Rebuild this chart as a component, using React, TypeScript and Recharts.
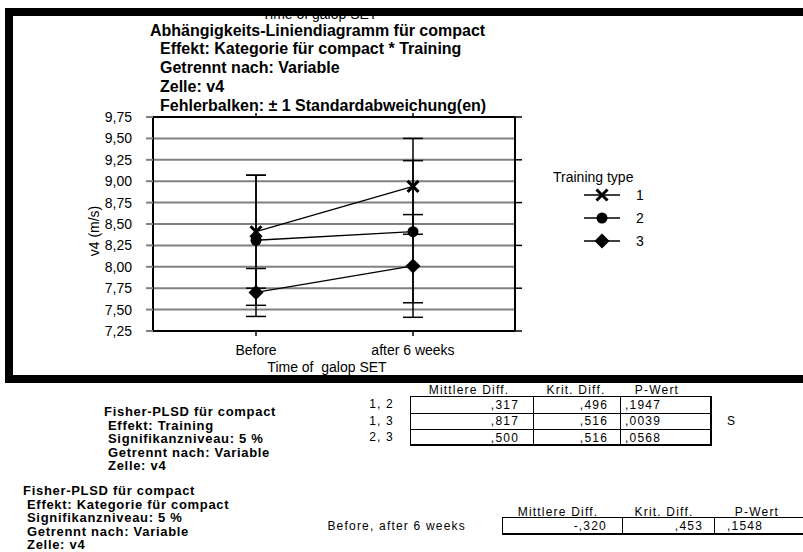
import React from 'react';
import { LineChart, Line, XAxis, YAxis, CartesianGrid, ErrorBar, Legend } from 'recharts';

// ---------- data ----------
const categories = ['Before', 'after 6 weeks'];
const type1Mean = [8.41, 8.94];
const type1Sd = [0.66, 0.56];
const type2Mean = [8.31, 8.41];
const type2Sd = [0.76, 0.83];
const type3Mean = [7.7, 8.01];
const type3Sd = [0.28, 0.6];
const yTicks = [7.25, 7.5, 7.75, 8.0, 8.25, 8.5, 8.75, 9.0, 9.25, 9.5, 9.75];
const yDomain = [7.25, 9.75];
const seriesNames = ['1', '2', '3'];
const legendTitle = 'Training type';
const yLabel = 'v4 (m/s)';
const xLabel = 'Time of  galop SET';

const titleLines = [
  'Abhängigkeits-Liniendiagramm für compact',
  'Effekt: Kategorie für compact * Training',
  'Getrennt nach: Variable',
  'Zelle: v4',
  'Fehlerbalken: ± 1 Standardabweichung(en)',
];

const fisher1Lines = ['Fisher-PLSD für compact', 'Effekt: Training', 'Signifikanzniveau: 5 %', 'Getrennt nach: Variable', 'Zelle: v4'];
const fisherHeaders = ['Mittlere Diff.', 'Krit. Diff.', 'P-Wert'];
const fisher1Pairs = ['1, 2', '1, 3', '2, 3'];
const fisher1MeanDiff = [',317', ',817', ',500'];
const fisher1CritDiff = [',496', ',516', ',516'];
const fisher1P = [',1947', ',0039', ',0568'];
const fisher1Sig = ['', 'S', ''];

const fisher2Lines = ['Fisher-PLSD für compact', 'Effekt: Kategorie für compact', 'Signifikanzniveau: 5 %', 'Getrennt nach: Variable', 'Zelle: v4'];
const fisher2Pairs = ['Before, after 6 weeks'];
const fisher2MeanDiff = ['-,320'];
const fisher2CritDiff = [',453'];
const fisher2P = [',1548'];

const data = categories.map((name, i) => ({
  name,
  t1: type1Mean[i],
  t1sd: type1Sd[i],
  t2: type2Mean[i],
  t2sd: type2Sd[i],
  t3: type3Mean[i],
  t3sd: type3Sd[i],
}));

const FONT = '"Liberation Sans", Arial, Helvetica, sans-serif';

// ---------- markers ----------
const drawX = (cx: number, cy: number) => (
  <path
    d={`M${cx - 5.5},${cy - 5.5}L${cx + 5.5},${cy + 5.5}M${cx - 5.5},${cy + 5.5}L${cx + 5.5},${cy - 5.5}`}
    stroke="#000"
    strokeWidth={3}
    fill="none"
  />
);
const drawCircle = (cx: number, cy: number) => <circle cx={cx} cy={cy} r={5.5} fill="#000" />;
const drawDiamond = (cx: number, cy: number) => (
  <polygon points={`${cx},${cy - 7.5} ${cx + 7.5},${cy} ${cx},${cy + 7.5} ${cx - 7.5},${cy}`} fill="#000" />
);
const markers = [drawX, drawCircle, drawDiamond];

const makeDot = (idx: number) => (props: any) => {
  const { cx, cy, index } = props;
  if (cx == null || cy == null) return <g key={`d${idx}-${index}`} />;
  return <g key={`d${idx}-${index}`}>{markers[idx](cx, cy)}</g>;
};

const Nothing = () => <g />;

// grid lines at every y tick, positioned from the plot offset the library supplies
const gridCoords = (props: any) => {
  const scale = props?.yAxis?.scale;
  if (typeof scale === 'function') return yTicks.map((t) => scale(t));
  const top = props?.offset?.top ?? 117;
  const h = props?.offset?.height ?? 214;
  return yTicks.map((t) => top + ((yDomain[1] - t) / (yDomain[1] - yDomain[0])) * h);
};

const renderLegend = () => (
  <svg width={130} height={90} style={{ display: 'block', overflow: 'visible' }}>
    <text x={5} y={16} fontSize={14} fontFamily={FONT} fill="#000">
      {legendTitle}
    </text>
    {seriesNames.map((n, i) => {
      const y = 29 + i * 23;
      return (
        <g key={n}>
          <line x1={36} x2={72} y1={y} y2={y} stroke="#000" strokeWidth={1.3} />
          {markers[i](54, y)}
          <text x={88} y={y} dominantBaseline="central" fontSize={14} fontFamily={FONT} fill="#000">
            {n}
          </text>
        </g>
      );
    })}
  </svg>
);

const yFmt = (v: number) => v.toFixed(2).replace('.', ',');

const abs = (left: number, top: number, extra: React.CSSProperties = {}): React.CSSProperties => ({
  position: 'absolute',
  left,
  top,
  whiteSpace: 'pre',
  ...extra,
});

const boldText: React.CSSProperties = { fontWeight: 'bold', fontSize: 13, letterSpacing: 0.7, lineHeight: '14px' };
const tableText: React.CSSProperties = { fontSize: 12, letterSpacing: 1.2, lineHeight: '14px' };

export default function App() {
  return (
    <div
      style={{
        position: 'absolute',
        left: 0,
        top: 0,
        width: 803,
        height: 552,
        background: '#fff',
        fontFamily: FONT,
        color: '#000',
        overflow: 'hidden',
      }}
    >
      {/* axis title partly hidden behind the top frame bar */}
      <div style={abs(262, 6, { fontSize: 14, lineHeight: '16px' })}>Time of galop SET</div>

      {/* chart title */}
      {titleLines.map((t, i) => (
        <div key={t} style={abs(i === 0 ? 150 : 160, 21.5 + i * 18.8, { fontSize: 16, fontWeight: 'bold', lineHeight: '18px' })}>
          {t}
        </div>
      ))}

      <div style={{ position: 'absolute', left: 0, top: 0 }}>
        <LineChart width={803} height={400} data={data} margin={{ top: 97, right: 278, left: 93, bottom: 39 }}>
          <CartesianGrid
            vertical={false}
            stroke="#808080"
            strokeWidth={2}
            horizontalCoordinatesGenerator={gridCoords}
          />
          <XAxis
            dataKey="name"
            padding={{ left: 103, right: 102 }}
            height={30}
            tickSize={5}
            tickMargin={9}
            axisLine={{ stroke: '#000', strokeWidth: 2 }}
            tickLine={{ stroke: '#000', strokeWidth: 1.5 }}
            tick={{ fill: '#000', fontSize: 14, fontFamily: FONT }}
          />
          <XAxis
            xAxisId="top"
            orientation="top"
            dataKey="name"
            padding={{ left: 103, right: 102 }}
            height={20}
            tickSize={4}
            axisLine={{ stroke: '#000', strokeWidth: 2 }}
            tickLine={{ stroke: '#000', strokeWidth: 1.5 }}
            tick={Nothing}
          />
          <YAxis
            domain={yDomain}
            ticks={yTicks}
            tickCount={11}
            type="number"
            width={60}
            tickSize={7}
            tickMargin={14}
            tickFormatter={yFmt}
            axisLine={{ stroke: '#000', strokeWidth: 2 }}
            tickLine={{ stroke: '#808080', strokeWidth: 2 }}
            tick={{ fill: '#000', fontSize: 14, fontFamily: FONT }}
            allowDataOverflow
          />
          <YAxis
            yAxisId="right"
            orientation="right"
            domain={yDomain}
            ticks={yTicks}
            tickCount={11}
            type="number"
            width={10}
            tickSize={7}
            axisLine={{ stroke: '#000', strokeWidth: 2 }}
            tickLine={{ stroke: '#000', strokeWidth: 1.5 }}
            tick={Nothing}
            allowDataOverflow
          />
          <Line dataKey="t1" name={seriesNames[0]} stroke="#000" strokeWidth={1.3} dot={makeDot(0)} activeDot={false} isAnimationActive={false}>
            <ErrorBar dataKey="t1sd" width={10} stroke="#000" strokeWidth={1.5} direction="y" isAnimationActive={false} />
          </Line>
          <Line dataKey="t2" name={seriesNames[1]} stroke="#000" strokeWidth={1.3} dot={makeDot(1)} activeDot={false} isAnimationActive={false}>
            <ErrorBar dataKey="t2sd" width={10} stroke="#000" strokeWidth={1.5} direction="y" isAnimationActive={false} />
          </Line>
          <Line dataKey="t3" name={seriesNames[2]} stroke="#000" strokeWidth={1.3} dot={makeDot(2)} activeDot={false} isAnimationActive={false}>
            <ErrorBar dataKey="t3sd" width={10} stroke="#000" strokeWidth={1.5} direction="y" isAnimationActive={false} />
          </Line>
          <Legend
            layout="vertical"
            align="center"
            verticalAlign="middle"
            content={renderLegend}
            wrapperStyle={{ left: 548, top: 166, width: 130, height: 90 }}
          />
        </LineChart>
      </div>

      {/* axis titles */}
      <div
        style={abs(94, 231, {
          fontSize: 14,
          transform: 'translate(-50%, -50%) rotate(-90deg)',
          lineHeight: '16px',
        })}
      >
        {yLabel}
      </div>
      <div style={abs(327, 367, { fontSize: 14, transform: 'translate(-50%, -50%)', lineHeight: '16px' })}>{xLabel}</div>

      {/* black frame */}
      <div style={{ position: 'absolute', left: 5, top: 8, width: 798, height: 8, background: '#000' }} />
      <div style={{ position: 'absolute', left: 5, top: 8, width: 8, height: 375, background: '#000' }} />
      <div style={{ position: 'absolute', left: 5, top: 375, width: 798, height: 8, background: '#000' }} />

      {/* Fisher table 1 */}
      {fisher1Lines.map((t, i) => (
        <div key={'f1' + i} style={abs(i === 0 ? 104 : 108, 405 + i * 13.5, boldText)}>
          {t}
        </div>
      ))}
      {fisherHeaders.map((h, i) => (
        <div key={'h1' + i} style={abs([469, 576, 657][i], 389.5, { ...tableText, transform: 'translate(-50%, -50%)' })}>
          {h}
        </div>
      ))}
      {fisher1Pairs.map((p, r) => {
        const top = 396 + r * 16.5;
        return (
          <React.Fragment key={'r1' + r}>
            <div style={abs(394, top + 8, { ...tableText, transform: 'translate(-100%, -50%)' })}>{p}</div>
            <div style={{ position: 'absolute', left: 410, top, width: 302, height: 16.5, borderTop: '1px solid #000', borderLeft: '1px solid #000', borderRight: '2px solid #000', borderBottom: r === 2 ? '2px solid #000' : 'none', boxSizing: 'border-box' }} />
            <div style={{ position: 'absolute', left: 533, top, width: 1, height: 16.5, background: '#000' }} />
            <div style={{ position: 'absolute', left: 620, top, width: 1, height: 16.5, background: '#000' }} />
            <div style={abs(519, top + 8.5, { ...tableText, transform: 'translate(-100%, -50%)' })}>{fisher1MeanDiff[r]}</div>
            <div style={abs(608, top + 8.5, { ...tableText, transform: 'translate(-100%, -50%)' })}>{fisher1CritDiff[r]}</div>
            <div style={abs(625, top + 8.5, { ...tableText, transform: 'translate(0, -50%)' })}>{fisher1P[r]}</div>
            <div style={abs(727, top + 8.5, { ...tableText, transform: 'translate(0, -50%)' })}>{fisher1Sig[r]}</div>
          </React.Fragment>
        );
      })}

      {/* Fisher table 2 */}
      {fisher2Lines.map((t, i) => (
        <div key={'f2' + i} style={abs(i === 0 ? 23 : 27, 484 + i * 13.5, boldText)}>
          {t}
        </div>
      ))}
      {fisherHeaders.map((h, i) => (
        <div key={'h2' + i} style={abs([558, 664, 757][i], 512, { ...tableText, transform: 'translate(-50%, -50%)' })}>
          {h}
        </div>
      ))}
      {fisher2Pairs.map((p, r) => {
        const top = 517 + r * 18;
        return (
          <React.Fragment key={'r2' + r}>
            <div style={abs(466, top + 9, { ...tableText, transform: 'translate(-100%, -50%)' })}>{p}</div>
            <div style={{ position: 'absolute', left: 502, top, width: 305, height: 18, borderTop: '1px solid #000', borderLeft: '1px solid #000', borderBottom: '2px solid #000', boxSizing: 'border-box' }} />
            <div style={{ position: 'absolute', left: 622, top, width: 1, height: 18, background: '#000' }} />
            <div style={{ position: 'absolute', left: 714, top, width: 1, height: 18, background: '#000' }} />
            <div style={abs(607, top + 9, { ...tableText, transform: 'translate(-100%, -50%)' })}>{fisher2MeanDiff[r]}</div>
            <div style={abs(703, top + 9, { ...tableText, transform: 'translate(-100%, -50%)' })}>{fisher2CritDiff[r]}</div>
            <div style={abs(727, top + 9, { ...tableText, transform: 'translate(0, -50%)' })}>{fisher2P[r]}</div>
          </React.Fragment>
        );
      })}
    </div>
  );
}
